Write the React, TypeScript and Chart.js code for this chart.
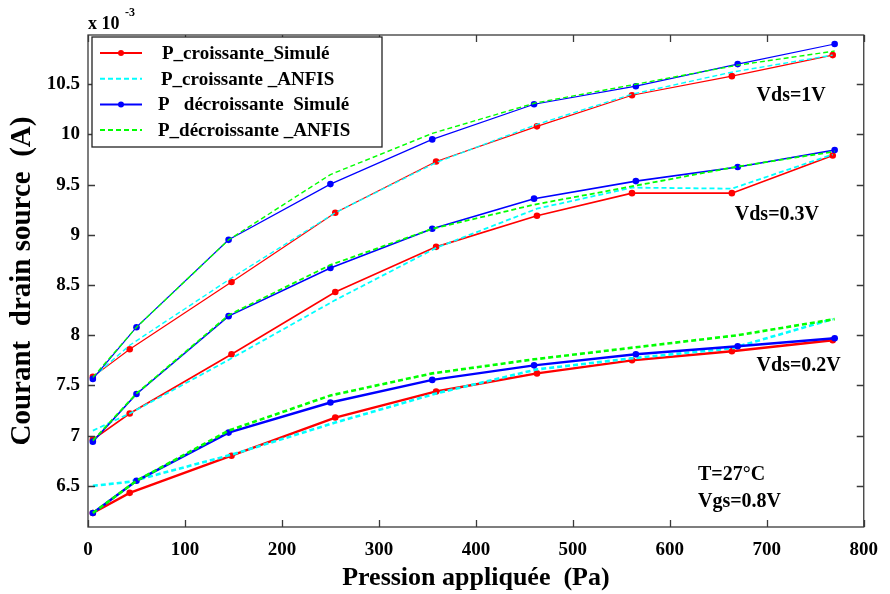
import { useEffect, useRef } from "react";
import { Chart, registerables } from "chart.js";

Chart.register(...registerables);

// ---------- data (current in units of 1e-3 A) ----------
const pressionCroissante = [5, 43, 148, 255, 359, 463, 561, 664, 768];
const pressionDecroissante = [5, 50, 145, 250, 355, 460, 565, 670, 770];

const croissanteSimuleVds1 = [7.585, 7.86, 8.53, 9.22, 9.73, 10.08, 10.39, 10.58, 10.79];
const croissanteAnfisVds1 = [7.58, 7.9, 8.57, 9.22, 9.72, 10.1, 10.4, 10.62, 10.79];
const decroissanteSimuleVds1 = [7.565, 8.08, 8.95, 9.505, 9.95, 10.3, 10.48, 10.7, 10.9];
const decroissanteAnfisVds1 = [7.58, 8.08, 8.95, 9.6, 10.01, 10.31, 10.5, 10.69, 10.83];

const croissanteSimuleVds03 = [6.96, 7.22, 7.81, 8.43, 8.88, 9.19, 9.415, 9.415, 9.79];
const croissanteAnfisVds03 = [7.05, 7.22, 7.77, 8.35, 8.87, 9.26, 9.47, 9.46, 9.8];
const decroissanteSimuleVds03 = [6.94, 7.415, 8.19, 8.67, 9.06, 9.36, 9.535, 9.675, 9.845];
const decroissanteAnfisVds03 = [6.95, 7.42, 8.2, 8.7, 9.06, 9.3, 9.49, 9.68, 9.83];

const croissanteSimuleVds02 = [6.23, 6.43, 6.8, 7.18, 7.44, 7.62, 7.75, 7.84, 7.95];
const croissanteAnfisVds02 = [6.5, 6.54, 6.81, 7.13, 7.42, 7.66, 7.77, 7.87, 8.16];
const decroissanteSimuleVds02 = [6.23, 6.55, 7.03, 7.33, 7.555, 7.7, 7.81, 7.89, 7.97];
const decroissanteAnfisVds02 = [6.23, 6.55, 7.05, 7.4, 7.62, 7.76, 7.88, 8.0, 8.16];

const xTickValues = [0, 100, 200, 300, 400, 500, 600, 700, 800];
const yTickValues = [6.5, 7, 7.5, 8, 8.5, 9, 9.5, 10, 10.5];
const yTickLabels = ["6.5", "7", "7.5", "8", "8.5", "9", "9.5", "10", "10.5"];

const seriesLabels = [
  "P_croissante_Simulé",
  "P_croissante _ANFIS",
  "P   décroissante  Simulé",
  "P_décroissante _ANFIS",
];
const annotationTexts = ["Vds=1V", "Vds=0.3V", "Vds=0.2V", "T=27°C", "Vgs=0.8V"];

// ---------- styles / layout ----------
const seriesColors = ["#ff0000", "#00ffff", "#0000ff", "#00ff00"];
const seriesDashed = [false, true, false, true];
const seriesOrder = [3, 2, 1, 0];
const groupWidths = [1.2, 1.6, 2.4];
const legendTextX = [162, 161, 158, 158];
// annotation anchors (left edge, baseline) in data coordinates
const annotationAnchors = [
  [689.5, 10.331],
  [667, 9.147],
  [689.5, 7.644],
  [629, 6.56],
  [629, 6.291],
];

const FONT = '"Liberation Serif", "Times New Roman", serif';

const groups = [
  [croissanteSimuleVds1, croissanteAnfisVds1, decroissanteSimuleVds1, decroissanteAnfisVds1],
  [croissanteSimuleVds03, croissanteAnfisVds03, decroissanteSimuleVds03, decroissanteAnfisVds03],
  [croissanteSimuleVds02, croissanteAnfisVds02, decroissanteSimuleVds02, decroissanteAnfisVds02],
];

function buildDatasets() {
  const ds: any[] = [];
  groups.forEach((group, g) => {
    group.forEach((ys, k) => {
      const xs = k < 2 ? pressionCroissante : pressionDecroissante;
      ds.push({
        label: seriesLabels[k],
        data: xs.map((x, i) => ({ x, y: ys[i] })),
        borderColor: seriesColors[k],
        backgroundColor: seriesColors[k],
        borderWidth: seriesDashed[k] ? groupWidths[g] + 0.2 : groupWidths[g],
        borderDash: seriesDashed[k] ? [5, 3] : [],
        pointRadius: seriesDashed[k] ? 0 : 3.3,
        pointHoverRadius: 0,
        pointBorderWidth: 0,
        pointBackgroundColor: seriesColors[k],
        tension: 0,
        fill: false,
        order: seriesOrder[k],
      });
    });
  });
  return ds;
}

const decorPlugin = {
  id: "decor",
  afterDraw(chart: any) {
    const { ctx, chartArea: a, scales } = chart;
    const x = scales.x;
    const y = scales.y;
    ctx.save();

    // frame
    ctx.strokeStyle = "#3a3a3a";
    ctx.lineWidth = 1.3;
    ctx.strokeRect(a.left, a.top, a.right - a.left, a.bottom - a.top);

    // inward ticks on all sides
    const tl = 7;
    ctx.beginPath();
    xTickValues.forEach((v) => {
      const px = Math.round(x.getPixelForValue(v)) + 0.5;
      ctx.moveTo(px, a.bottom);
      ctx.lineTo(px, a.bottom - tl);
      ctx.moveTo(px, a.top);
      ctx.lineTo(px, a.top + tl);
    });
    yTickValues.forEach((v) => {
      const py = Math.round(y.getPixelForValue(v)) + 0.5;
      ctx.moveTo(a.left, py);
      ctx.lineTo(a.left + tl, py);
      ctx.moveTo(a.right, py);
      ctx.lineTo(a.right - tl, py);
    });
    ctx.stroke();

    // multiplier
    ctx.fillStyle = "#000";
    ctx.textBaseline = "alphabetic";
    ctx.textAlign = "left";
    ctx.font = `bold 18px ${FONT}`;
    ctx.fillText("x 10", a.left, 29);
    ctx.font = `bold 12px ${FONT}`;
    ctx.fillText("-3", a.left + 37, 16);

    // annotations
    ctx.font = `bold 20px ${FONT}`;
    ctx.textBaseline = "alphabetic";
    annotationTexts.forEach((t, i) => {
      const [ax, ay] = annotationAnchors[i];
      ctx.fillText(t, x.getPixelForValue(ax), y.getPixelForValue(ay));
    });

    // legend
    const lx0 = 92, ly0 = 37, lx1 = 382, ly1 = 147;
    ctx.fillStyle = "#fff";
    ctx.fillRect(lx0, ly0, lx1 - lx0, ly1 - ly0);
    ctx.strokeStyle = "#222";
    ctx.lineWidth = 1.3;
    ctx.strokeRect(lx0, ly0, lx1 - lx0, ly1 - ly0);
    seriesLabels.forEach((lab, k) => {
      const cy = ly0 + 16 + k * 25.7;
      ctx.save();
      ctx.strokeStyle = seriesColors[k];
      ctx.lineWidth = 2;
      ctx.setLineDash(seriesDashed[k] ? [5, 3] : []);
      ctx.beginPath();
      ctx.moveTo(100, cy);
      ctx.lineTo(142, cy);
      ctx.stroke();
      ctx.restore();
      if (!seriesDashed[k]) {
        ctx.fillStyle = seriesColors[k];
        ctx.beginPath();
        ctx.arc(121, cy, 3, 0, Math.PI * 2);
        ctx.fill();
      }
      ctx.fillStyle = "#000";
      ctx.font = `bold 19px ${FONT}`;
      ctx.textBaseline = "middle";
      ctx.textAlign = "left";
      ctx.fillText(lab, legendTextX[k], cy + 1);
    });

    // axis titles
    ctx.fillStyle = "#000";
    ctx.textAlign = "center";
    ctx.textBaseline = "middle";
    ctx.font = `bold 26px ${FONT}`;
    ctx.fillText("Pression appliquée  (Pa)", (a.left + a.right) / 2, 578);
    ctx.save();
    ctx.translate(23, 281);
    ctx.rotate(-Math.PI / 2);
    ctx.font = `bold 29px ${FONT}`;
    ctx.fillText("Courant  drain source  (A)", 0, 0);
    ctx.restore();

    ctx.restore();
  },
};

export default function App() {
  const ref = useRef<HTMLCanvasElement | null>(null);
  useEffect(() => {
    if (!ref.current) return;
    const chart = new Chart(ref.current, {
      type: "line",
      data: { datasets: buildDatasets() },
      options: {
        animation: false,
        responsive: false,
        devicePixelRatio: 1,
        events: [],
        layout: { padding: { left: 0, top: 35, right: 20, bottom: 0 } },
        plugins: {
          legend: { display: false },
          tooltip: { enabled: false },
          title: { display: false },
        },
        scales: {
          x: {
            type: "linear",
            min: 0,
            max: 800,
            grid: { display: false, drawTicks: false },
            border: { display: false },
            afterBuildTicks: (s: any) => {
              s.ticks = xTickValues.map((v) => ({ value: v }));
            },
            afterFit: (s: any) => {
              s.height = 67;
            },
            ticks: {
              autoSkip: false,
              maxRotation: 0,
              padding: 12,
              color: "#000",
              font: { family: FONT, size: 19, weight: "bold" },
              callback: (v: any) => String(v),
            },
          },
          y: {
            type: "linear",
            min: 6.09,
            max: 10.99,
            grid: { display: false, drawTicks: false },
            border: { display: false },
            afterBuildTicks: (s: any) => {
              s.ticks = yTickValues.map((v) => ({ value: v }));
            },
            afterFit: (s: any) => {
              s.width = 88;
            },
            ticks: {
              autoSkip: false,
              padding: 8,
              color: "#000",
              font: { family: FONT, size: 19, weight: "bold" },
              callback: (v: any) => {
                const i = yTickValues.indexOf(Number(v));
                return i >= 0 ? yTickLabels[i] : "";
              },
            },
          },
        },
      },
      plugins: [decorPlugin],
    } as any);
    return () => chart.destroy();
  }, []);
  return (
    <div style={{ position: "fixed", left: 0, top: 0, width: 890, height: 594, background: "#fff" }}>
      <canvas ref={ref} width={890} height={594} style={{ display: "block" }} />
    </div>
  );
}
